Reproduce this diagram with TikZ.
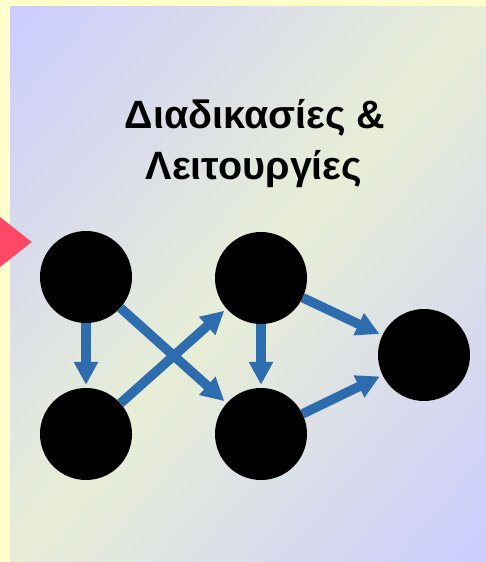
\documentclass[tikz,border=0pt]{standalone}
\usepackage{fontspec}
\setmainfont{Liberation Sans}
\usetikzlibrary{arrows.meta}
\definecolor{paleyellow}{HTML}{FFFFCC}
\definecolor{paleblue}{HTML}{CCCCFF}
\definecolor{palegreen}{HTML}{E8EED6}
\definecolor{rosered}{HTML}{FF4766}
\definecolor{steelarrow}{HTML}{2E6DAD}
\tikzset{
    dot/.style={circle, fill=black, inner sep=0pt, minimum size=92pt},
    flow/.style={draw=steelarrow, line width=9.5pt,
        -{Triangle[width=23pt,length=23pt]}, shorten >=3pt},
    heading/.style={anchor=base, font=\fontsize{39.5}{48}\selectfont\bfseries},
}
\begin{document}
\begin{tikzpicture}[x=1pt,y=-1pt]
            \useasboundingbox (0,0) rectangle (486,562);
            \fill[paleyellow] (0,0) rectangle (486,562);
            % panel: unit square, diagonal bands blue -> green -> blue
            \begin{scope}[shift={(10pt,-6pt)}, x={(476pt,0pt)}, y={(0pt,-556pt)}]
                \clip (0,0) rectangle (1,1);
                \foreach \i in {0,...,59}{
                    \pgfmathsetmacro\lo{\i/30}
                    \pgfmathsetmacro\hi{(\i+1.2)/30}
                    \pgfmathtruncatemacro\pct{100*(1-abs((\i+0.5)/30-1))}
                    \fill[palegreen!\pct!paleblue] (\lo+1,-1) -- (\hi+1,-1)
                        -- (\hi-2,2) -- (\lo-2,2) -- cycle;
                }
            \end{scope}
            \fill[rosered] (0,217) -- (31.7,242) -- (0,267) -- cycle;

            \node[heading] (title1) at (255,128) {Διαδικασίες \&};
            \node[heading] (title2) at (254,179) {Λειτουργίες};

            \node[dot] (a) at (86,277) {};
            \node[dot] (b) at (86,434) {};
            \node[dot] (c) at (261,278) {};
            \node[dot] (d) at (261,434) {};
            \node[dot] (e) at (424,355) {};

            \draw[flow] (a) -- (b);
            \draw[flow] (a) -- (d);
            \draw[flow] (b) -- (c);
            \draw[flow] (c) -- (d);
            \draw[flow] (c) -- (e);
            \draw[flow] (d) -- (e);
        \end{tikzpicture}
\end{document}
